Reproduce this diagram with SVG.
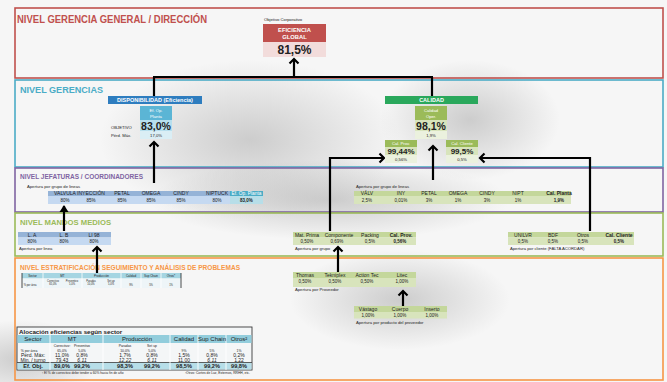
<svg xmlns="http://www.w3.org/2000/svg" width="667" height="382" viewBox="0 0 667 382">
<style>
  text { font-family: "Liberation Sans", Arial, sans-serif; fill: #222; }
  .lvl { font-weight: bold; }
  .c { text-anchor: middle; }
  .t5 { font-size: 5px; }
  .t4 { font-size: 4.2px; }
  .t3 { font-size: 3px; }
  .w { fill: #fff; }
  .b { font-weight: bold; }
  .conn { stroke: #000; stroke-width: 2.2; fill: none; }
  .frame { fill: none; stroke-width: 1.6; }
</style>
<defs>
  <marker id="chev" viewBox="-6 -6 12 12" markerUnits="userSpaceOnUse" markerWidth="12" markerHeight="12" refX="0" refY="0" orient="auto">
    <path d="M -4.5 -4.5 L 0 0 L -4.5 4.5" fill="none" stroke="#000" stroke-width="2.2"/>
  </marker>
  <marker id="tri" viewBox="-6 -6 12 12" markerUnits="userSpaceOnUse" markerWidth="12" markerHeight="12" refX="0" refY="0" orient="auto">
    <path d="M -6 -4.5 L 1 0 L -6 4.5 Z" fill="#000"/>
  </marker>
  <radialGradient id="shade">
    <stop offset="0" stop-color="#9a9a9a" stop-opacity="0.45"/>
    <stop offset="1" stop-color="#9a9a9a" stop-opacity="0"/>
  </radialGradient>
</defs>

<!-- slide background -->
<rect width="667" height="382" fill="#f6f6f6"/>
<ellipse cx="250" cy="140" rx="150" ry="80" fill="url(#shade)"/>
<ellipse cx="470" cy="120" rx="90" ry="60" fill="url(#shade)"/>
<ellipse cx="330" cy="200" rx="180" ry="40" fill="url(#shade)"/>
<ellipse cx="400" cy="300" rx="110" ry="50" fill="url(#shade)"/>
<ellipse cx="20" cy="360" rx="80" ry="40" fill="url(#shade)"/>

<!-- level frames -->
<g id="nivel-direccion">
  <rect class="frame" x="15" y="8" width="648" height="70" stroke="#c0504d"/>
  <text class="lvl" x="17" y="23" font-size="10.5" fill="#c0504d" style="fill:#c0504d" textLength="190" lengthAdjust="spacingAndGlyphs">NIVEL GERENCIA GENERAL / DIRECCIÓN</text>
</g>
<g id="nivel-gerencias">
  <rect class="frame" x="15" y="80" width="648" height="87" stroke="#4bacc6"/>
  <text class="lvl" x="20" y="93" font-size="9.5" style="fill:#4bacc6" textLength="83" lengthAdjust="spacingAndGlyphs">NIVEL GERENCIAS</text>
</g>
<g id="nivel-jefaturas">
  <rect class="frame" x="15" y="168" width="648" height="44" stroke="#8064a2"/>
  <text class="lvl" x="20" y="179" font-size="8" style="fill:#8064a2" textLength="123" lengthAdjust="spacingAndGlyphs">NIVEL JEFATURAS / COORDINADORES</text>
</g>
<g id="nivel-mandos">
  <rect class="frame" x="15" y="213" width="648" height="43" stroke="#9bbb59"/>
  <text class="lvl" x="20" y="225" font-size="8" style="fill:#9bbb59" textLength="91" lengthAdjust="spacingAndGlyphs">NIVEL MANDOS MEDIOS</text>
</g>
<g id="nivel-estratificacion">
  <rect class="frame" x="15" y="258" width="648" height="122" stroke="#f79646"/>
  <text class="lvl" x="20" y="269.5" font-size="8" style="fill:#f79646" textLength="220" lengthAdjust="spacingAndGlyphs">NIVEL ESTRATIFICACIÓN SEGUIMIENTO Y ANÁLISIS DE PROBLEMAS</text>
</g>

<!-- connectors -->
<g id="connectors">
  <line class="conn" x1="153" y1="77" x2="433" y2="77"/>
  <line class="conn" x1="294" y1="77" x2="294" y2="59" marker-end="url(#chev)"/>
  <line class="conn" x1="154" y1="77" x2="154" y2="96"/>
  <line class="conn" x1="432" y1="77" x2="432" y2="96"/>
  <line class="conn" x1="154" y1="183" x2="154" y2="142" marker-end="url(#chev)"/>
  <line class="conn" x1="433" y1="180" x2="433" y2="146" marker-end="url(#chev)"/>
  <path class="conn" d="M330 231 V158 H384" marker-end="url(#chev)"/>
  <path class="conn" d="M590 231 V158 H480" marker-end="url(#chev)"/>
  <line class="conn" x1="64" y1="231" x2="64" y2="206" marker-end="url(#tri)"/>
  <line class="conn" x1="97" y1="273" x2="97" y2="247" marker-end="url(#chev)"/>
  <line class="conn" x1="338" y1="272" x2="338" y2="247" marker-end="url(#chev)"/>
  <line class="conn" x1="403" y1="306" x2="403" y2="291" marker-end="url(#chev)"/>
</g>

<!-- corporate objective -->
<g id="eficiencia-global">
  <text x="264" y="21" font-size="4.2">Objetivo Corporativo</text>
  <rect x="263" y="24" width="63" height="18" fill="#c0504d"/>
  <rect x="263" y="42" width="63" height="15" fill="#f2dcdb"/>
  <text class="c w b" x="294.5" y="31.5" font-size="5.8">EFICIENCIA</text>
  <text class="c w b" x="294.5" y="39" font-size="5.8">GLOBAL</text>
  <text class="c b" x="294.5" y="54" font-size="12">81,5%</text>
</g>

<!-- availability -->
<g id="disponibilidad">
  <rect x="108" y="96" width="94" height="8" fill="#2e7dbf"/>
  <text class="c w b" x="155" y="102.2" font-size="5.5">DISPONIBILIDAD (Eficiencia)</text>
  <rect x="140" y="106" width="32" height="14" fill="#5bb5d5"/>
  <rect x="140" y="120" width="32" height="11" fill="#b7dfee"/>
  <rect x="140" y="131" width="32" height="8" fill="#daeef5"/>
  <text class="c w t4" x="156" y="111.5">Ef. Op.</text>
  <text class="c w t4" x="156" y="117.5">Planta</text>
  <text class="c b" x="156" y="129.8" font-size="10.5">83,0%</text>
  <text class="c t4" x="156" y="137">17,0%</text>
  <text class="t4" x="111" y="128.5">OBJETIVO</text>
  <text class="t4" x="111" y="137">Pérd. Máx.</text>
</g>

<!-- quality -->
<g id="calidad">
  <rect x="385" y="96" width="93" height="8" fill="#2aa85c"/>
  <text class="c w b" x="431.5" y="102.2" font-size="5.5">CALIDAD</text>
  <rect x="415" y="106" width="32" height="14" fill="#9bbb59"/>
  <rect x="415" y="120" width="32" height="11" fill="#d8e4bc"/>
  <rect x="415" y="131" width="32" height="8" fill="#ebf1de"/>
  <text class="c w t4" x="431" y="111.5">Calidad</text>
  <text class="c w t4" x="431" y="117.5">Oper.</text>
  <text class="c b" x="431" y="129.8" font-size="10.5">98,1%</text>
  <text class="c t4" x="431" y="137">1,9%</text>
</g>
<g id="cal-prov">
  <rect x="385" y="140" width="32" height="7" fill="#9bbb59"/>
  <rect x="385" y="147" width="32" height="8" fill="#d8e4bc"/>
  <rect x="385" y="155" width="32" height="8" fill="#ebf1de"/>
  <text class="c w t4" x="401" y="145.3">Cal. Prov.</text>
  <text class="c b" x="401" y="154" font-size="8">99,44%</text>
  <text class="c t4" x="401" y="161">0,56%</text>
</g>
<g id="cal-cliente">
  <rect x="446" y="140" width="32" height="7" fill="#9bbb59"/>
  <rect x="446" y="147" width="32" height="8" fill="#d8e4bc"/>
  <rect x="446" y="155" width="32" height="8" fill="#ebf1de"/>
  <text class="c w t4" x="462" y="145.3">Cal. Cliente</text>
  <text class="c b" x="462" y="154" font-size="8">99,5%</text>
  <text class="c t4" x="462" y="161">0,5%</text>
</g>

<!-- line groups, efficiency -->
<g id="apertura-lineas-eficiencia">
  <text class="t4" x="27" y="187.5">Apertura por grupo de lineas</text>
  <rect x="48" y="191" width="182" height="5" fill="#95b3d7"/>
  <rect x="48" y="196" width="182" height="8" fill="#c5d9f1"/>
  <rect x="230" y="191" width="33" height="5" fill="#4bacc6"/>
  <rect x="230" y="196" width="33" height="8" fill="#b7dee8"/>
  <g class="c t5" style="text-anchor:middle">
    <text x="65" y="195.3" font-size="5">VALVULA</text>
    <text x="91" y="195.3" font-size="5">INYECCIÓN</text>
    <text x="122" y="195.3" font-size="5">PETAL</text>
    <text x="151" y="195.3" font-size="5">OMEGA</text>
    <text x="181" y="195.3" font-size="5">CINDY</text>
    <text x="217" y="195.3" font-size="5">NIPTUCK</text>
    <text x="246.5" y="195.3" font-size="4.8" style="fill:#fff">Ef. Op. Planta</text>
    <text x="65" y="201.8" font-size="4.5">80%</text>
    <text x="91" y="201.8" font-size="4.5">85%</text>
    <text x="122" y="201.8" font-size="4.5">85%</text>
    <text x="151" y="201.8" font-size="4.5">85%</text>
    <text x="181" y="201.8" font-size="4.5">85%</text>
    <text x="217" y="201.8" font-size="4.5">80%</text>
    <text x="246.5" y="201.8" font-size="4.5" font-weight="bold">83,0%</text>
  </g>
</g>

<!-- line groups, quality -->
<g id="apertura-lineas-calidad">
  <text class="t4" x="356" y="188">Apertura por grupo de lineas</text>
  <rect x="354" y="191" width="217" height="5" fill="#c4d79b"/>
  <rect x="354" y="196" width="217" height="8" fill="#d8e4bc"/>
  <g style="text-anchor:middle">
    <text x="367" y="195.3" font-size="5">VÁLV</text>
    <text x="401" y="195.3" font-size="5">INY</text>
    <text x="429" y="195.3" font-size="5">PETAL</text>
    <text x="458" y="195.3" font-size="5">OMEGA</text>
    <text x="487" y="195.3" font-size="5">CINDY</text>
    <text x="518" y="195.3" font-size="5">NIPT</text>
    <text x="559" y="195.3" font-size="5" font-weight="bold">Cal. Planta</text>
    <text x="367" y="201.8" font-size="4.5">2,5%</text>
    <text x="401" y="201.8" font-size="4.5">0,01%</text>
    <text x="429" y="201.8" font-size="4.5">3%</text>
    <text x="458" y="201.8" font-size="4.5">1%</text>
    <text x="487" y="201.8" font-size="4.5">3%</text>
    <text x="518" y="201.8" font-size="4.5">1%</text>
    <text x="559" y="201.8" font-size="4.5" font-weight="bold">1,9%</text>
  </g>
</g>

<!-- per line -->
<g id="apertura-linea">
  <rect x="18" y="232" width="93" height="5.5" fill="#95b3d7"/>
  <rect x="18" y="237.5" width="93" height="7.5" fill="#c5d9f1"/>
  <g style="text-anchor:middle">
    <text x="32" y="236.5" font-size="5">L. A</text>
    <text x="64" y="236.5" font-size="5">L. B</text>
    <text x="94" y="236.5" font-size="5">LI 98</text>
    <text x="32" y="243" font-size="4.5">80%</text>
    <text x="64" y="243" font-size="4.5">80%</text>
    <text x="94" y="243" font-size="4.5">80%</text>
  </g>
  <text class="t4" x="19" y="250">Apertura por linea</text>
</g>

<!-- per supplier group -->
<g id="apertura-grupo-proveedor">
  <rect x="293" y="232" width="123" height="5.5" fill="#c4d79b"/>
  <rect x="293" y="237.5" width="123" height="7.5" fill="#d8e4bc"/>
  <g style="text-anchor:middle">
    <text x="307" y="236.5" font-size="5">Mat. Prima</text>
    <text x="339" y="236.5" font-size="5">Componente</text>
    <text x="370" y="236.5" font-size="5">Packing</text>
    <text x="401" y="236.5" font-size="5" font-weight="bold">Cal. Prov.</text>
    <text x="307" y="243" font-size="4.5">0,50%</text>
    <text x="337" y="243" font-size="4.5">0,69%</text>
    <text x="370" y="243" font-size="4.5">0,5%</text>
    <text x="400" y="243" font-size="4.5" font-weight="bold">0,56%</text>
  </g>
  <text class="t4" x="295" y="250">Apertura por grupo</text>
</g>

<!-- per customer -->
<g id="apertura-cliente">
  <rect x="508" y="232" width="126" height="5.5" fill="#c4d79b"/>
  <rect x="508" y="237.5" width="126" height="7.5" fill="#d8e4bc"/>
  <g style="text-anchor:middle">
    <text x="523" y="236.5" font-size="5">UNILVR</text>
    <text x="553" y="236.5" font-size="5">BDF</text>
    <text x="583" y="236.5" font-size="5">Otros</text>
    <text x="619" y="236.5" font-size="5" font-weight="bold">Cal. Cliente</text>
    <text x="523" y="243" font-size="4.5">0,5%</text>
    <text x="553" y="243" font-size="4.5">0,5%</text>
    <text x="583" y="243" font-size="4.5">0,5%</text>
    <text x="619" y="243" font-size="4.5" font-weight="bold">0,5%</text>
  </g>
  <text class="t4" x="510" y="250">Apertura por cliente (FALTA ACORDAR)</text>
</g>

<!-- per supplier -->
<g id="apertura-proveedor">
  <rect x="293" y="272" width="123" height="6" fill="#c4d79b"/>
  <rect x="293" y="278" width="123" height="9" fill="#d8e4bc"/>
  <g style="text-anchor:middle">
    <text x="305" y="276.8" font-size="5">Thomas</text>
    <text x="335" y="276.8" font-size="5">Tekniplex</text>
    <text x="367" y="276.8" font-size="5">Action Tec</text>
    <text x="402" y="276.8" font-size="5">Litec</text>
    <text x="305" y="283" font-size="4.5">0,50%</text>
    <text x="335" y="283" font-size="4.5">0,50%</text>
    <text x="367" y="283" font-size="4.5">0,50%</text>
    <text x="402" y="283" font-size="4.5">1,00%</text>
  </g>
  <text class="t4" x="295" y="291">Apertura por Proveedor</text>
</g>

<!-- per supplier product -->
<g id="apertura-producto">
  <rect x="354" y="306" width="93" height="6" fill="#c4d79b"/>
  <rect x="354" y="312" width="93" height="6.5" fill="#d8e4bc"/>
  <g style="text-anchor:middle">
    <text x="368" y="310.8" font-size="5">Vástago</text>
    <text x="400" y="310.8" font-size="5">Cuerpo</text>
    <text x="432" y="310.8" font-size="5">Inserto</text>
    <text x="368" y="317" font-size="4.5">1,00%</text>
    <text x="400" y="317" font-size="4.5">1,00%</text>
    <text x="432" y="317" font-size="4.5">1,00%</text>
  </g>
  <text class="t4" x="356" y="324">Apertura por producto del proveedor</text>
</g>

<!-- small sector table -->
<g id="tabla-sector">
  <rect x="22" y="273" width="159" height="5.5" fill="#a5d5e2"/>
  <rect x="22" y="278.5" width="159" height="9.5" fill="#eef5f8"/>
  <g stroke="#fff" stroke-width="0.8">
    <line x1="43" y1="273" x2="43" y2="288"/>
    <line x1="82" y1="273" x2="82" y2="288"/>
    <line x1="121" y1="273" x2="121" y2="288"/>
    <line x1="141" y1="273" x2="141" y2="288"/>
    <line x1="161" y1="273" x2="161" y2="288"/>
  </g>
  <line x1="22" y1="273" x2="22" y2="288" stroke="#222" stroke-width="0.8"/>
  <line x1="181" y1="273" x2="181" y2="288" stroke="#222" stroke-width="0.8"/>
  <g style="text-anchor:middle" font-size="3">
    <text x="32.5" y="277">Sector</text>
    <text x="62.5" y="277">MT</text>
    <text x="101.5" y="277">Producción</text>
    <text x="131" y="277">Calidad</text>
    <text x="151" y="277">Sup Chain</text>
    <text x="171" y="277">Otros*</text>
    <text x="53" y="281.8" font-size="2.6">Correctivo</text>
    <text x="72" y="281.8" font-size="2.6">Preventivo</text>
    <text x="91" y="281.8" font-size="2.6">Paradas</text>
    <text x="111" y="281.8" font-size="2.6">Set up</text>
    <text x="30" y="286" font-size="2.6">% por área</text>
    <text x="53" y="285" font-size="2.6">65,0%</text>
    <text x="72" y="285" font-size="2.6">5,0%</text>
    <text x="91" y="285" font-size="2.6">10,0%</text>
    <text x="111" y="285" font-size="2.6">5,0%</text>
    <text x="131" y="286" font-size="2.6">9%</text>
    <text x="151" y="286" font-size="2.6">5%</text>
    <text x="171" y="286" font-size="2.6">1%</text>
  </g>
</g>

<!-- efficiency allocation table -->
<g id="tabla-alocacion">
  <rect x="17" y="327" width="235" height="43" fill="#f4f6f7" stroke="#3a3a3a" stroke-width="0.9"/>
  <text x="19" y="333.5" font-size="6.2" font-weight="bold">Alocación eficiencias según sector</text>
  <rect x="17.5" y="335" width="234" height="8" fill="#92cddc"/>
  <rect x="17.5" y="362.5" width="234" height="7" fill="#b7dee8"/>
  <line x1="17" y1="362.5" x2="252" y2="362.5" stroke="#3a3a3a" stroke-width="0.8"/>
  <g stroke="#fff" stroke-width="0.9">
    <line x1="50" y1="335" x2="50" y2="370"/>
    <line x1="103" y1="335" x2="103" y2="370"/>
    <line x1="170" y1="335" x2="170" y2="370"/>
    <line x1="198" y1="335" x2="198" y2="370"/>
    <line x1="226" y1="335" x2="226" y2="370"/>
  </g>
  <g style="text-anchor:middle">
    <text x="33" y="341.3" font-size="6">Sector</text>
    <text x="72" y="341.3" font-size="6">MT</text>
    <text x="137" y="341.3" font-size="6">Producción</text>
    <text x="184" y="341.3" font-size="6">Calidad</text>
    <text x="212" y="341.3" font-size="6">Sup Chain</text>
    <text x="239" y="341.3" font-size="6">Otros²</text>
    <text x="62" y="346.8" font-size="3.4">Correctivo¹</text>
    <text x="82" y="346.8" font-size="3.4">Preventivo</text>
    <text x="125" y="346.8" font-size="3.4">Paradas</text>
    <text x="152" y="346.8" font-size="3.4">Set up</text>
    <g font-size="3.4">
      <text x="29" y="351.8">% por área</text>
      <text x="62" y="351.8">65,0%</text>
      <text x="82" y="351.8">5,0%</text>
      <text x="125" y="351.8">10,0%</text>
      <text x="152" y="351.8">5,0%</text>
      <text x="184" y="351.8">9%</text>
      <text x="212" y="351.8">5%</text>
      <text x="239" y="351.8">1%</text>
    </g>
    <g font-size="5">
      <text x="33" y="356.8">Pérd. Máx:</text>
      <text x="62" y="356.8">11,0%</text>
      <text x="82" y="356.8">0,8%</text>
      <text x="125" y="356.8">1,7%</text>
      <text x="152" y="356.8">0,8%</text>
      <text x="184" y="356.8">1,5%</text>
      <text x="212" y="356.8">0,8%</text>
      <text x="239" y="356.8">0,2%</text>
      <text x="33" y="361.5">Min. / turno</text>
      <text x="62" y="361.5">79,43</text>
      <text x="82" y="361.5" font-style="italic">6,11</text>
      <text x="125" y="361.5" font-style="italic">12,22</text>
      <text x="152" y="361.5" font-style="italic">6,11</text>
      <text x="184" y="361.5">11,00</text>
      <text x="212" y="361.5" font-style="italic">6,11</text>
      <text x="239" y="361.5">1,22</text>
    </g>
    <g font-size="5.6" font-weight="bold">
      <text x="33" y="368.3">Ef. Obj.</text>
      <text x="62" y="368.3">89,0%</text>
      <text x="82" y="368.3">99,2%</text>
      <text x="125" y="368.3">98,3%</text>
      <text x="152" y="368.3">99,2%</text>
      <text x="184" y="368.3">98,5%</text>
      <text x="212" y="368.3">99,2%</text>
      <text x="239" y="368.3">99,8%</text>
    </g>
  </g>
  <text x="42" y="374" font-size="3.3">¹ El % de correctivo debe tender a 60% hacia fin de año</text>
  <text x="185" y="374" font-size="3.3">²Otros: Cortes de Luz, Externos, RRHH, etc.</text>
</g>
</svg>
